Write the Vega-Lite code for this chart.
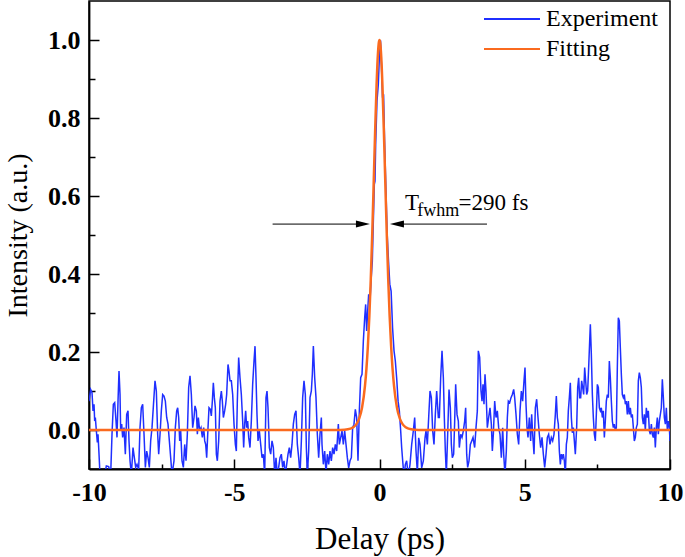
{
"$schema": "https://vega.github.io/schema/vega-lite/v6.json",
"width": 581, "height": 468,
"autosize": {"type": "none"},
"padding": {"left": 89, "top": 1, "right": 15, "bottom": 88},
"background": "white",
"config": {
 "view": {"stroke": "black", "strokeWidth": 1.5},
 "font": "Liberation Serif",
 "axis": {"grid": false, "domainColor": "black", "domainWidth": 1.8, "tickColor": "black", "tickWidth": 1.5,
  "labelFont": "Liberation Serif", "labelFontWeight": "bold", "labelFontSize": 26, "labelColor": "black",
  "titleFont": "Liberation Serif", "titleFontWeight": "normal", "titleFontSize": 28, "titleColor": "black", "labelOverlap": false}
},
"datasets": {
"exp": [
{"x":-10,"y":0.074},{"x":-9.942,"y":0.104},{"x":-9.896,"y":0.096},{"x":-9.862,"y":0.049},{"x":-9.827,"y":0.066},{"x":-9.805,"y":0.023},{"x":-9.782,"y":0.032},{"x":-9.747,"y":-0.002},{"x":-9.713,"y":-0.032},{"x":-9.69,"y":-0.011},{"x":-9.655,"y":-0.062},{"x":-9.621,"y":-0.115},{"x":-9.518,"y":-0.115},{"x":-9.46,"y":-0.115},{"x":-9.403,"y":-0.092},{"x":-9.323,"y":-0.094},{"x":-9.254,"y":-0.115},{"x":-9.208,"y":-0.011},{"x":-9.162,"y":0.066},{"x":-9.116,"y":0.07},{"x":-9.07,"y":0.023},{"x":-9.036,"y":-0.019},{"x":-9.001,"y":0.074},{"x":-8.967,"y":0.151},{"x":-8.932,"y":0.091},{"x":-8.91,"y":-0.002},{"x":-8.875,"y":0.015},{"x":-8.841,"y":-0.019},{"x":-8.795,"y":0.006},{"x":-8.749,"y":-0.062},{"x":-8.703,"y":0.04},{"x":-8.657,"y":0.049},{"x":-8.623,"y":-0.028},{"x":-8.588,"y":-0.079},{"x":-8.542,"y":-0.115},{"x":-8.485,"y":-0.045},{"x":-8.439,"y":-0.071},{"x":-8.393,"y":-0.096},{"x":-8.347,"y":-0.088},{"x":-8.29,"y":-0.101},{"x":-8.244,"y":0.006},{"x":-8.198,"y":0.057},{"x":-8.152,"y":0.066},{"x":-8.106,"y":-0.011},{"x":-8.06,"y":-0.096},{"x":-8.014,"y":-0.054},{"x":-7.969,"y":-0.071},{"x":-7.923,"y":-0.096},{"x":-7.877,"y":-0.028},{"x":-7.831,"y":0.006},{"x":-7.773,"y":0.074},{"x":-7.728,"y":0.126},{"x":-7.682,"y":0.1},{"x":-7.636,"y":-0.011},{"x":-7.601,"y":-0.062},{"x":-7.555,"y":-0.011},{"x":-7.51,"y":0.049},{"x":-7.464,"y":0.091},{"x":-7.418,"y":0.087},{"x":-7.372,"y":0.074},{"x":-7.326,"y":0.032},{"x":-7.28,"y":0.015},{"x":-7.234,"y":-0.028},{"x":-7.188,"y":-0.071},{"x":-7.142,"y":-0.115},{"x":-7.074,"y":-0.079},{"x":-7.028,"y":0.006},{"x":-6.982,"y":0.049},{"x":-6.947,"y":0.057},{"x":-6.913,"y":0.032},{"x":-6.878,"y":-0.028},{"x":-6.844,"y":-0.002},{"x":-6.798,"y":-0.079},{"x":-6.752,"y":-0.096},{"x":-6.706,"y":-0.037},{"x":-6.66,"y":-0.079},{"x":-6.615,"y":-0.011},{"x":-6.569,"y":0.109},{"x":-6.523,"y":0.139},{"x":-6.477,"y":0.091},{"x":-6.431,"y":0.006},{"x":-6.385,"y":0.032},{"x":-6.351,"y":0.062},{"x":-6.305,"y":0.049},{"x":-6.27,"y":-0.011},{"x":-6.236,"y":0.032},{"x":-6.19,"y":-0.002},{"x":-6.144,"y":0.006},{"x":-6.098,"y":-0.019},{"x":-6.052,"y":0.006},{"x":-6.017,"y":-0.028},{"x":-5.983,"y":-0.037},
{"x":-5.949,"y":-0.071},{"x":-5.903,"y":0.006},{"x":-5.869,"y":0.057},{"x":-5.823,"y":0.053},{"x":-5.789,"y":0.036},{"x":-5.754,"y":0.074},{"x":-5.72,"y":0.121},{"x":-5.685,"y":0.083},{"x":-5.651,"y":0.057},{"x":-5.616,"y":-0.062},{"x":-5.582,"y":-0.079},{"x":-5.536,"y":-0.028},{"x":-5.49,"y":0.074},{"x":-5.444,"y":0.1},{"x":-5.41,"y":0.074},{"x":-5.375,"y":0.032},{"x":-5.33,"y":0.049},{"x":-5.295,"y":0.066},{"x":-5.261,"y":0.091},{"x":-5.215,"y":0.168},{"x":-5.18,"y":0.151},{"x":-5.146,"y":0.126},{"x":-5.1,"y":0.126},{"x":-5.054,"y":0.091},{"x":-5.008,"y":0.015},{"x":-4.962,"y":-0.037},{"x":-4.928,"y":-0.054},{"x":-4.894,"y":0.074},{"x":-4.848,"y":0.186},{"x":-4.802,"y":0.134},{"x":-4.756,"y":0.091},{"x":-4.71,"y":0.023},{"x":-4.676,"y":-0.045},{"x":-4.641,"y":0.015},{"x":-4.607,"y":0.049},{"x":-4.572,"y":0.006},{"x":-4.538,"y":0.023},{"x":-4.503,"y":-0.019},{"x":-4.458,"y":-0.045},{"x":-4.412,"y":0.023},{"x":-4.366,"y":0.117},{"x":-4.32,"y":0.177},{"x":-4.285,"y":0.215},{"x":-4.251,"y":0.134},{"x":-4.217,"y":0.04},{"x":-4.182,"y":-0.028},{"x":-4.136,"y":-0.002},{"x":-4.09,"y":-0.037},{"x":-4.044,"y":-0.071},{"x":-3.999,"y":-0.062},{"x":-3.953,"y":-0.115},{"x":-3.907,"y":0.083},{"x":-3.872,"y":0.1},{"x":-3.838,"y":0.057},{"x":-3.792,"y":-0.045},{"x":-3.746,"y":-0.062},{"x":-3.7,"y":-0.028},{"x":-3.654,"y":-0.045},{"x":-3.608,"y":-0.115},{"x":-3.563,"y":-0.071},{"x":-3.517,"y":-0.115},{"x":-3.471,"y":-0.096},{"x":-3.425,"y":-0.071},{"x":-3.379,"y":-0.062},{"x":-3.333,"y":-0.096},{"x":-3.287,"y":-0.079},{"x":-3.241,"y":-0.115},{"x":-3.195,"y":-0.088},{"x":-3.149,"y":-0.062},{"x":-3.104,"y":-0.045},{"x":-3.058,"y":-0.071},{"x":-3.012,"y":-0.037},{"x":-2.966,"y":0.015},{"x":-2.92,"y":0.04},{"x":-2.874,"y":0.049},{"x":-2.828,"y":-0.037},{"x":-2.782,"y":-0.071},{"x":-2.736,"y":-0.115},{"x":-2.69,"y":-0.028},{"x":-2.645,"y":0.083},{"x":-2.599,"y":0.126},{"x":-2.553,"y":0.091},{"x":-2.518,"y":-0.045},{"x":-2.484,"y":-0.115},{"x":-2.438,"y":-0.054},{"x":-2.392,"y":0.083},{"x":-2.346,"y":0.1},{"x":-2.312,"y":0.143},{"x":-2.277,"y":0.215},{"x":-2.231,"y":0.134},{"x":-2.186,"y":0.083},{"x":-2.14,"y":-0.011},{"x":-2.094,"y":-0.071},{"x":-2.048,"y":-0.011},{"x":-2.002,"y":0.032},
{"x":-1.979,"y":-0.037},{"x":-1.933,"y":-0.088},{"x":-1.887,"y":-0.054},{"x":-1.841,"y":-0.11},{"x":-1.796,"y":-0.062},{"x":-1.75,"y":-0.088},{"x":-1.704,"y":-0.054},{"x":-1.658,"y":-0.079},{"x":-1.612,"y":-0.045},{"x":-1.566,"y":-0.062},{"x":-1.52,"y":-0.037},{"x":-1.474,"y":-0.054},{"x":-1.417,"y":0.015},{"x":-1.382,"y":-0.037},{"x":-1.337,"y":-0.02},{"x":-1.291,"y":-0.002},{"x":-1.245,"y":-0.037},{"x":-1.199,"y":-0.002},{"x":-1.153,"y":-0.037},{"x":-1.107,"y":-0.071},{"x":-1.061,"y":-0.097},{"x":-1.015,"y":-0.079},{"x":-0.969,"y":-0.071},{"x":-0.924,"y":0.006},{"x":-0.878,"y":0.015},{"x":-0.832,"y":0.053},{"x":-0.786,"y":0.032},{"x":-0.74,"y":-0.079},{"x":-0.694,"y":0.049},{"x":-0.648,"y":0.134},{"x":-0.602,"y":0.143},{"x":-0.556,"y":0.228},{"x":-0.51,"y":0.288},{"x":-0.476,"y":0.322},{"x":-0.442,"y":0.254},{"x":-0.407,"y":0.305},{"x":-0.373,"y":0.348},{"x":-0.327,"y":0.331},{"x":-0.292,"y":0.382},{"x":-0.247,"y":0.433},
{"x":-0.224,"y":0.502},{"x":-0.178,"y":0.63},{"x":-0.155,"y":0.638},{"x":-0.132,"y":0.732},{"x":-0.086,"y":0.844},{"x":-0.041,"y":0.886},{"x":0.005,"y":0.972},{"x":0.035,"y":0.999},{"x":0.07,"y":0.929},{"x":0.105,"y":0.852},{"x":0.14,"y":0.861},{"x":0.175,"y":0.741},{"x":0.22,"y":0.621},{"x":0.265,"y":0.502},{"x":0.31,"y":0.433},{"x":0.355,"y":0.374},{"x":0.4,"y":0.356},{"x":0.45,"y":0.262},{"x":0.5,"y":0.203},{"x":0.545,"y":0.177},{"x":0.59,"y":0.134},{"x":0.64,"y":0.074},{"x":0.683,"y":0.049},{"x":0.729,"y":-0.002},{"x":0.763,"y":-0.045},{"x":0.798,"y":-0.079},{"x":0.844,"y":-0.12},{"x":0.89,"y":-0.088},{"x":0.935,"y":-0.079},{"x":0.993,"y":-0.12},{"x":1.05,"y":-0.088},{"x":1.108,"y":-0.037},{"x":1.165,"y":-0.002},{"x":1.211,"y":0.032},{"x":1.257,"y":-0.054},{"x":1.303,"y":-0.11},{"x":1.349,"y":-0.02},{"x":1.394,"y":-0.037},{"x":1.452,"y":-0.097},{"x":1.509,"y":-0.079},{"x":1.567,"y":-0.02},{"x":1.601,"y":-0.002},{"x":1.647,"y":-0.037},{"x":1.693,"y":0.032},{"x":1.739,"y":0.1},{"x":1.785,"y":0.083},{"x":1.83,"y":-0.002},{"x":1.876,"y":-0.037},{"x":1.922,"y":0.04},{"x":1.968,"y":0.1},{"x":2.025,"y":0.032},
{"x":2.06,"y":0.032},{"x":2.106,"y":0.134},{"x":2.152,"y":0.203},{"x":2.198,"y":0.134},{"x":2.232,"y":0.032},{"x":2.266,"y":-0.054},{"x":2.301,"y":-0.115},{"x":2.347,"y":-0.011},{"x":2.393,"y":0.104},{"x":2.439,"y":0.057},{"x":2.473,"y":-0.037},{"x":2.507,"y":-0.071},{"x":2.553,"y":-0.062},{"x":2.588,"y":0.023},{"x":2.622,"y":0.117},{"x":2.668,"y":0.04},{"x":2.714,"y":0.023},{"x":2.748,"y":-0.045},{"x":2.794,"y":-0.011},{"x":2.84,"y":-0.019},{"x":2.886,"y":-0.002},{"x":2.932,"y":0.023},{"x":2.966,"y":0.057},{"x":3.001,"y":-0.062},{"x":3.035,"y":-0.096},{"x":3.081,"y":-0.079},{"x":3.127,"y":-0.037},{"x":3.173,"y":-0.028},{"x":3.219,"y":-0.019},{"x":3.276,"y":-0.045},{"x":3.322,"y":0.006},{"x":3.368,"y":0.049},{"x":3.402,"y":0.203},{"x":3.448,"y":0.186},{"x":3.494,"y":0.1},{"x":3.529,"y":0.074},{"x":3.563,"y":0.117},{"x":3.597,"y":0.066},{"x":3.632,"y":0.143},{"x":3.666,"y":0.1},{"x":3.712,"y":0.006},{"x":3.758,"y":0.032},{"x":3.804,"y":0.057},{"x":3.85,"y":0.015},{"x":3.884,"y":-0.054},{"x":3.919,"y":-0.011},{"x":3.965,"y":0.074},{"x":4.011,"y":0.032},{"x":4.056,"y":0.049},{"x":4.102,"y":0.006},{"x":4.148,"y":-0.011},{"x":4.194,"y":-0.071},{"x":4.24,"y":0.006},{"x":4.275,"y":-0.062},{"x":4.32,"y":-0.115},{"x":4.366,"y":-0.054},{"x":4.401,"y":0.032},{"x":4.435,"y":0.074},{"x":4.481,"y":0.07},{"x":4.527,"y":0.083},{"x":4.573,"y":0.091},{"x":4.619,"y":0.104},{"x":4.653,"y":0.083},{"x":4.699,"y":0.04},{"x":4.745,"y":-0.011},{"x":4.791,"y":-0.037},{"x":4.837,"y":0.049},{"x":4.883,"y":0.1},{"x":4.928,"y":0.074},{"x":4.974,"y":0.126},{"x":5.009,"y":0.16},{"x":5.043,"y":0.066},{"x":5.078,"y":0.006},{"x":5.112,"y":-0.019},{"x":5.158,"y":0.032},{"x":5.204,"y":-0.028},{"x":5.238,"y":0.04},{"x":5.273,"y":-0.011},{"x":5.319,"y":-0.062},{"x":5.365,"y":0.057},{"x":5.41,"y":0.079},{"x":5.456,"y":0.032},{"x":5.502,"y":-0.011},{"x":5.548,"y":-0.045},{"x":5.594,"y":-0.019},{"x":5.64,"y":-0.062},{"x":5.686,"y":-0.096},{"x":5.732,"y":-0.062},{"x":5.778,"y":-0.019},{"x":5.823,"y":-0.011},{"x":5.869,"y":-0.037},{"x":5.915,"y":-0.019},{"x":5.961,"y":-0.028},{"x":6.007,"y":-0.011},{"x":6.053,"y":0.04},
{"x":6.087,"y":0.087},{"x":6.122,"y":0.032},{"x":6.156,"y":0.015},{"x":6.191,"y":-0.054},{"x":6.225,"y":-0.088},{"x":6.259,"y":-0.062},{"x":6.294,"y":-0.071},{"x":6.328,"y":-0.062},{"x":6.363,"y":-0.079},{"x":6.397,"y":-0.115},{"x":6.432,"y":-0.037},{"x":6.466,"y":-0.019},{"x":6.5,"y":0.049},{"x":6.535,"y":0.083},{"x":6.569,"y":0.121},{"x":6.604,"y":0.032},{"x":6.638,"y":-0.007},{"x":6.673,"y":0.006},{"x":6.707,"y":-0.028},{"x":6.741,"y":-0.062},{"x":6.787,"y":0.006},{"x":6.822,"y":0.109},{"x":6.856,"y":0.134},{"x":6.891,"y":0.083},{"x":6.925,"y":0.083},{"x":6.959,"y":0.126},{"x":6.994,"y":0.109},{"x":7.028,"y":0.091},{"x":7.063,"y":0.16},{"x":7.097,"y":0.126},{"x":7.131,"y":0.091},{"x":7.166,"y":0.1},{"x":7.2,"y":0.16},{"x":7.235,"y":0.228},{"x":7.258,"y":0.271},{"x":7.292,"y":0.194},{"x":7.327,"y":0.091},{"x":7.361,"y":0.032},{"x":7.395,"y":-0.011},{"x":7.43,"y":-0.028},{"x":7.464,"y":0.04},{"x":7.499,"y":0.117},{"x":7.533,"y":0.109},{"x":7.568,"y":0.057},{"x":7.602,"y":0.049},{"x":7.636,"y":0.057},{"x":7.671,"y":0.032},{"x":7.705,"y":0.049},{"x":7.74,"y":-0.019},{"x":7.774,"y":0.023},{"x":7.808,"y":0.074},{"x":7.843,"y":0.091},{"x":7.877,"y":0.083},{"x":7.912,"y":0.177},{"x":7.946,"y":0.134},{"x":7.981,"y":0.074},{"x":8.015,"y":0.023},{"x":8.049,"y":0.006},{"x":8.084,"y":0.015},{"x":8.118,"y":-0.002},{"x":8.153,"y":0.006},{"x":8.187,"y":0.16},{"x":8.221,"y":0.288},{"x":8.256,"y":0.28},{"x":8.29,"y":0.211},{"x":8.325,"y":0.143},{"x":8.359,"y":0.091},{"x":8.394,"y":0.083},{"x":8.428,"y":0.091},{"x":8.463,"y":0.066},{"x":8.497,"y":0.074},{"x":8.531,"y":0.04},{"x":8.566,"y":0.074},{"x":8.6,"y":0.04},{"x":8.635,"y":0.057},{"x":8.669,"y":0.032},{"x":8.703,"y":0.04},{"x":8.738,"y":0.006},{"x":8.772,"y":-0.028},{"x":8.807,"y":-0.019},{"x":8.841,"y":0.006},{"x":8.876,"y":0.015},{"x":8.91,"y":0.126},{"x":8.944,"y":0.147},{"x":8.979,"y":0.134},{"x":9.013,"y":0.109},{"x":9.048,"y":0.032},{"x":9.082,"y":0.015},{"x":9.117,"y":0.04},{"x":9.151,"y":-0.002},{"x":9.185,"y":0.057},{"x":9.22,"y":0.032},{"x":9.254,"y":0.049},{"x":9.289,"y":-0.002},{"x":9.323,"y":-0.011},{"x":9.358,"y":0.015},{"x":9.392,"y":-0.011},{"x":9.427,"y":-0.019},{"x":9.461,"y":0.006},{"x":9.495,"y":-0.045},{"x":9.53,"y":0.006},{"x":9.564,"y":0.032},{"x":9.599,"y":-0.011},{"x":9.633,"y":0.023},{"x":9.668,"y":0.04},{"x":9.702,"y":0.057},{"x":9.736,"y":0.13},{"x":9.771,"y":0.083},{"x":9.805,"y":0.032},{"x":9.84,"y":0.015},{"x":9.874,"y":0.057},{"x":9.909,"y":-0.002},{"x":9.943,"y":0.023},{"x":9.978,"y":0.006},{"x":10,"y":-0.028}
],
"fit": [
{"x":-10,"y":0},{"x":-2,"y":0},{"x":-1.5,"y":0.0001},{"x":-1.2,"y":0.0009},{"x":-1.0,"y":0.0036},{"x":-0.9,"y":0.0072},{"x":-0.8,"y":0.0145},{"x":-0.7,"y":0.029},{"x":-0.6,"y":0.0576},{"x":-0.5,"y":0.1129},{"x":-0.45,"y":0.1565},{"x":-0.4,"y":0.2148},{"x":-0.35,"y":0.291},{"x":-0.3,"y":0.3872},{"x":-0.25,"y":0.503},{"x":-0.2,"y":0.6333},{"x":-0.15,"y":0.7671},{"x":-0.1,"y":0.8863},{"x":-0.075,"y":0.9338},{"x":-0.05,"y":0.9698},{"x":-0.025,"y":0.9924},{"x":0,"y":1},{"x":0.025,"y":0.9924},{"x":0.05,"y":0.9698},{"x":0.075,"y":0.9338},{"x":0.1,"y":0.8863},{"x":0.15,"y":0.7671},{"x":0.2,"y":0.6333},{"x":0.25,"y":0.503},{"x":0.3,"y":0.3872},{"x":0.35,"y":0.291},{"x":0.4,"y":0.2148},{"x":0.45,"y":0.1565},{"x":0.5,"y":0.1129},{"x":0.6,"y":0.0576},{"x":0.7,"y":0.029},{"x":0.8,"y":0.0145},{"x":0.9,"y":0.0072},{"x":1.0,"y":0.0036},{"x":1.2,"y":0.0009},{"x":1.5,"y":0.0001},{"x":2,"y":0},{"x":10,"y":0}
],
"one": [{}]
},
"layer": [
 {"data": {"name": "exp"},
  "mark": {"type": "line", "clip": true, "strokeWidth": 1.5},
  "encoding": {
   "x": {"field": "x", "type": "quantitative", "scale": {"domain": [-10, 10], "nice": false},
    "axis": {"title": "Delay (ps)", "titleFontSize": 31, "values": [-10,-7.5,-5,-2.5,0,2.5,5,7.5,10],
     "labelExpr": "datum.value % 5 === 0 ? (datum.value < 0 ? '-' + abs(datum.value) : '' + datum.value) : ''",
     "tickSize": {"condition": {"test": "datum.value % 5 === 0", "value": -10}, "value": -5},
     "labelPadding": 20, "titlePadding": 14, "labelFlush": false}},
   "y": {"field": "y", "type": "quantitative", "scale": {"domain": [-0.1, 1.1], "nice": false},
    "axis": {"title": "Intensity (a.u.)", "values": [0,0.1,0.2,0.3,0.4,0.5,0.6,0.7,0.8,0.9,1.0],
     "labelExpr": "round(datum.value*10) % 2 === 0 ? format(datum.value, '.1f') : ''",
     "tickSize": {"condition": {"test": "round(datum.value*10) % 2 === 0", "value": -10}, "value": -6},
     "labelPadding": 19, "titlePadding": 15, "labelFlush": false}},
   "color": {"datum": "Experiment", "type": "nominal",
    "scale": {"domain": ["Experiment", "Fitting"], "range": ["#1f2fff", "#fa6a1f"]},
    "legend": {"title": null, "orient": "none", "legendX": 434, "legendY": 6,
     "symbolType": "M-10.2,0H1", "symbolSize": 100, "symbolStrokeWidth": 2,
     "labelFont": "Liberation Serif", "labelFontSize": 24, "labelColor": "black", "labelOffset": -1,
     "rowPadding": 6, "padding": 0}}
  }},
 {"data": {"name": "fit"},
  "mark": {"type": "line", "clip": true, "strokeWidth": 2.5, "interpolate": "monotone"},
  "encoding": {
   "x": {"field": "x", "type": "quantitative"},
   "y": {"field": "y", "type": "quantitative"},
   "color": {"datum": "Fitting", "type": "nominal"}
  }},
 {"data": {"name": "one"},
  "mark": {"type": "rule", "color": "black", "strokeWidth": 1},
  "encoding": {"x": {"datum": -3.68}, "x2": {"datum": -0.5}, "y": {"datum": 0.528}}},
 {"data": {"name": "one"},
  "mark": {"type": "rule", "color": "black", "strokeWidth": 1},
  "encoding": {"x": {"datum": 0.55}, "x2": {"datum": 3.7}, "y": {"datum": 0.528}}},
 {"data": {"name": "one"},
  "mark": {"type": "point", "shape": "M-1,-0.5L1,0L-1,0.5Z", "filled": true, "color": "black", "opacity": 1, "size": 196},
  "encoding": {"x": {"datum": -0.57}, "y": {"datum": 0.528}}},
 {"data": {"name": "one"},
  "mark": {"type": "point", "shape": "M1,-0.5L-1,0L1,0.5Z", "filled": true, "color": "black", "opacity": 1, "size": 196},
  "encoding": {"x": {"datum": 0.6}, "y": {"datum": 0.528}}},
 {"data": {"name": "one"},
  "mark": {"type": "text", "text": "T", "font": "Liberation Serif", "fontSize": 23, "align": "left", "baseline": "alphabetic", "color": "black"},
  "encoding": {"x": {"datum": 0.878}, "y": {"datum": 0.564}}},
 {"data": {"name": "one"},
  "mark": {"type": "text", "text": "fwhm", "font": "Liberation Serif", "fontSize": 18, "align": "left", "baseline": "alphabetic", "color": "black"},
  "encoding": {"x": {"datum": 1.3}, "y": {"datum": 0.549}}},
 {"data": {"name": "one"},
  "mark": {"type": "text", "text": "=290 fs", "font": "Liberation Serif", "fontSize": 23, "align": "left", "baseline": "alphabetic", "color": "black"},
  "encoding": {"x": {"datum": 2.72}, "y": {"datum": 0.564}}}
]
}
